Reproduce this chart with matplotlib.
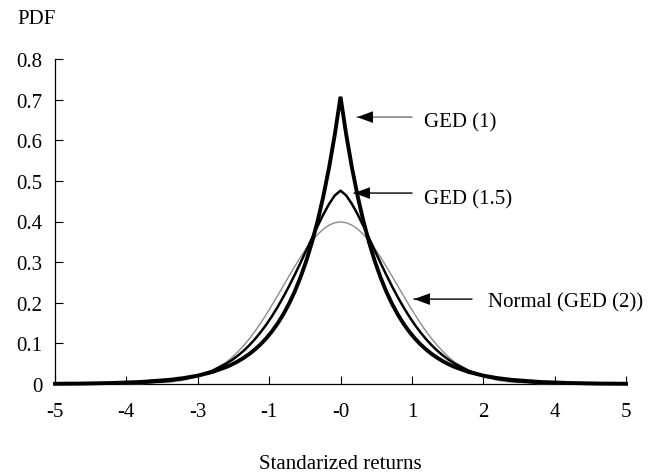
import matplotlib
matplotlib.use("Agg")
import matplotlib.pyplot as plt

# ---- data ----
x_values = [-5, -4.5, -4, -3.5, -3, -2.75, -2.5, -2.25,
            -2.0, -1.9, -1.8, -1.7, -1.6, -1.5, -1.4, -1.3, -1.2, -1.1,
            -1.0, -0.9, -0.8, -0.7, -0.6, -0.5, -0.4, -0.3, -0.2, -0.1,
            0.0,
            0.1, 0.2, 0.3, 0.4, 0.5, 0.6, 0.7, 0.8, 0.9, 1.0,
            1.1, 1.2, 1.3, 1.4, 1.5, 1.6, 1.7, 1.8, 1.9, 2.0,
            2.25, 2.5, 2.75, 3, 3.5, 4, 4.5, 5]

ged1_pdf = [0.0006, 0.0012, 0.0025, 0.0050, 0.0102, 0.0145, 0.0206, 0.0293,
            0.0418, 0.0481, 0.0555, 0.0639, 0.0736, 0.0848, 0.0976, 0.1125, 0.1296, 0.1492,
            0.1719, 0.1980, 0.2281, 0.2628, 0.3027, 0.3487, 0.4016, 0.4626, 0.5329, 0.6139,
            0.7071,
            0.6139, 0.5329, 0.4626, 0.4016, 0.3487, 0.3027, 0.2628, 0.2281, 0.1980, 0.1719,
            0.1492, 0.1296, 0.1125, 0.0976, 0.0848, 0.0736, 0.0639, 0.0555, 0.0481, 0.0418,
            0.0293, 0.0206, 0.0145, 0.0102, 0.0050, 0.0025, 0.0012, 0.0006]

ged15_pdf = [0.0001, 0.0002, 0.0008, 0.0026, 0.0076, 0.0126, 0.0204, 0.0324,
             0.0500, 0.0591, 0.0695, 0.0814, 0.0949, 0.1102, 0.1272, 0.1461, 0.1670, 0.1899,
             0.2146, 0.2411, 0.2692, 0.2985, 0.3287, 0.3591, 0.3891, 0.4176, 0.4432, 0.4641,
             0.4760,
             0.4641, 0.4432, 0.4176, 0.3891, 0.3591, 0.3287, 0.2985, 0.2692, 0.2411, 0.2146,
             0.1899, 0.1670, 0.1461, 0.1272, 0.1102, 0.0949, 0.0814, 0.0695, 0.0591, 0.0500,
             0.0324, 0.0204, 0.0126, 0.0076, 0.0026, 0.0008, 0.0002, 0.0001]

normal_pdf = [0.0000, 0.0000, 0.0001, 0.0009, 0.0044, 0.0091, 0.0175, 0.0317,
              0.0540, 0.0656, 0.0790, 0.0940, 0.1109, 0.1295, 0.1497, 0.1714, 0.1942, 0.2179,
              0.2420, 0.2661, 0.2897, 0.3123, 0.3332, 0.3521, 0.3683, 0.3814, 0.3910, 0.3970,
              0.3989,
              0.3970, 0.3910, 0.3814, 0.3683, 0.3521, 0.3332, 0.3123, 0.2897, 0.2661, 0.2420,
              0.2179, 0.1942, 0.1714, 0.1497, 0.1295, 0.1109, 0.0940, 0.0790, 0.0656, 0.0540,
              0.0317, 0.0175, 0.0091, 0.0044, 0.0009, 0.0001, 0.0000, 0.0000]

x_tick_pos = [-5, -3.75, -2.5, -1.25, 0, 1.25, 2.5, 3.75, 5]
x_tick_labels = ["-5", "-4", "-3", "-1", "-0", "1", "2", "4", "5"]
y_ticks = [0, 0.1, 0.2, 0.3, 0.4, 0.5, 0.6, 0.7, 0.8]
y_tick_labels = ["0", "0.1", "0.2", "0.3", "0.4", "0.5", "0.6", "0.7", "0.8"]

labels = ["GED (1)", "GED (1.5)", "Normal (GED (2))"]

# ---- figure ----
plt.rcParams['font.family'] = ['Liberation Serif', 'DejaVu Serif']
FS = 15

fig = plt.figure(figsize=(6.48, 4.77), dpi=100)
ax = fig.add_axes([55/648, 1-385/477, 571/648, 325/477])

ax.plot(x_values, normal_pdf, color="#8c8c8c", lw=1.0, clip_on=False, zorder=3)
ax.plot(x_values, ged15_pdf, color="black", lw=1.8, clip_on=False, zorder=4)
ax.plot(x_values, ged1_pdf, color="black", lw=2.8, clip_on=False, zorder=5,
        solid_joinstyle="miter")

ax.set_xlim(-5, 5)
ax.set_ylim(0, 0.8)
ax.set_xticks(x_tick_pos)
ax.set_xticklabels(x_tick_labels, fontsize=FS)
ax.set_yticks(y_ticks)
ax.set_yticklabels(y_tick_labels, fontsize=FS)
ax.tick_params(axis="both", direction="in", length=6, width=0.8, colors="black")
ax.tick_params(axis="x", pad=13)
ax.tick_params(axis="y", pad=9)
for s in ["top", "right"]:
    ax.spines[s].set_visible(False)
for s in ["left", "bottom"]:
    ax.spines[s].set_linewidth(0.9)

# annotations (tip, tail, text position)
ann = [
    (labels[0], (0.289, 0.657), (1.252, 0.657), (1.462, 0.645), "#6e6e6e"),
    (labels[1], (0.236, 0.470), (1.252, 0.470), (1.462, 0.455), "black"),
    (labels[2], (1.287, 0.209), (2.303, 0.209), (2.583, 0.202), "black"),
]
for txt, tip, tail, tpos, col in ann:
    ax.annotate("", xy=tip, xytext=tail,
                arrowprops=dict(arrowstyle="-",
                                color=col, lw=1.0, shrinkA=0, shrinkB=0))
    ax.annotate("", xy=tip, xytext=tail,
                arrowprops=dict(arrowstyle="-|>,head_length=1.15,head_width=0.42",
                                mutation_scale=10, color="black", lw=0.0,
                                shrinkA=0, shrinkB=0))
    ax.text(tpos[0], tpos[1], txt, fontsize=FS, ha="left", va="center")

fig.text(17/648, 1-19/477, "PDF", fontsize=FS, ha="left", va="center")
fig.text(340.5/648, 1-465/477, "Standarized returns", fontsize=FS, ha="center", va="center")

fig.savefig("out.png", dpi=100)
